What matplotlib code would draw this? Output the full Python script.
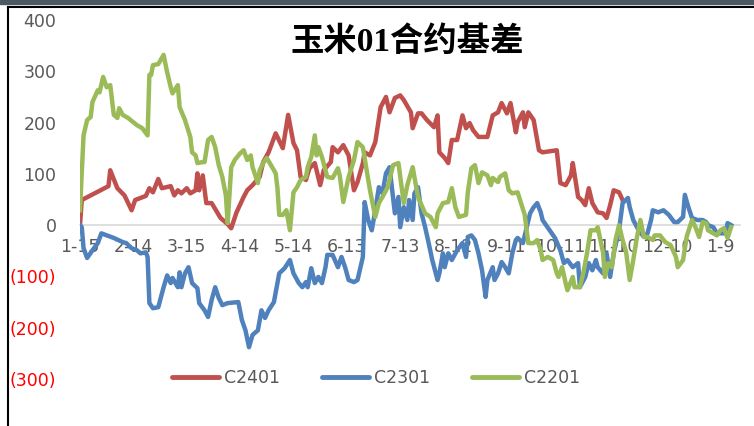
import matplotlib
matplotlib.use('Agg')
import matplotlib.pyplot as plt
from matplotlib.lines import Line2D

# --- data: day offset from 1-15, basis value ---
c2401_day = [0, 1, 16, 17, 21, 25, 29, 31, 37, 39, 41, 44, 46, 51, 53, 55, 57, 60, 62, 65,
             66, 67, 69, 71, 74, 79, 83, 85, 88, 92, 94, 97, 101, 103, 106, 110, 114, 117, 120, 122,
             124, 127, 129, 132, 135, 137, 141, 142, 145, 148, 151, 154, 156, 159, 160, 163, 166, 169, 172, 174,
             177, 180, 182, 186, 187, 190, 192, 195, 199, 201, 202, 205, 207, 209, 212, 215, 217, 219, 221, 224,
             229, 232, 235, 237, 240, 242, 245, 246, 249, 250, 252, 255, 258, 260, 268, 270, 273, 276, 277, 280,
             282, 284, 286, 288, 291, 294, 296, 298, 300, 303, 305]
c2401_val = [0, 49, 76, 107, 72, 58, 29, 49, 57, 72, 64, 90, 72, 76, 58, 68, 62, 72, 62, 68,
             101, 68, 97, 43, 43, 14, 2, -6, 25, 55, 68, 78, 94, 123, 142, 179, 150, 215, 160, 146,
             94, 88, 111, 121, 78, 107, 123, 152, 142, 156, 136, 68, 84, 121, 142, 136, 162, 230, 250, 220,
             248, 253, 244, 220, 189, 218, 218, 205, 191, 214, 142, 131, 121, 166, 166, 214, 189, 199, 185, 172,
             172, 214, 220, 238, 218, 238, 181, 201, 220, 191, 220, 205, 146, 142, 146, 82, 78, 97, 121, 55,
             49, 39, 72, 43, 25, 23, 14, 39, 68, 64, 49]

c2301_day = [0, 1, 2, 4, 7, 10, 12, 19, 24, 26, 29, 32, 34, 37, 38, 39, 41, 44, 47, 49,
             51, 52, 55, 56, 57, 59, 61, 63, 66, 67, 70, 72, 74, 76, 78, 80, 83, 89, 91, 93,
             95, 97, 100, 102, 104, 106, 109, 111, 112, 115, 118, 120, 123, 125, 127, 128, 130, 132, 134, 136,
             138, 139, 142, 145, 147, 149, 151, 154, 156, 159, 160, 162, 164, 166, 168, 170, 172, 174, 177, 179,
             180, 182, 184, 185, 187, 188, 190, 192, 194, 196, 198, 201, 202, 204, 205, 207, 209, 212, 215, 217,
             218, 220, 222, 224, 226, 228, 229, 232, 233, 235, 237, 239, 241, 243, 245, 246, 249, 250, 253, 255,
             257, 259, 260, 264, 267, 270, 272, 274, 277, 280, 281, 284, 286, 288, 290, 291, 294, 296, 298, 300,
             303, 305, 308, 309, 311, 314, 317, 319, 321, 322, 325, 328, 331, 334, 336, 339, 340, 342, 344, 347,
             350, 352, 353, 356, 358, 363, 364, 366]
c2301_val = [0, -4, -45, -64, -49, -35, -16, -25, -33, -35, -45, -49, -55, -53, -62, -152, -162, -160, -121, -98,
             -113, -103, -121, -92, -121, -94, -82, -113, -123, -152, -166, -179, -146, -121, -142, -156, -152, -150, -185, -205,
             -238, -214, -205, -166, -181, -166, -150, -113, -94, -84, -68, -94, -113, -121, -111, -121, -84, -113, -101, -113,
             -82, -58, -58, -82, -62, -82, -107, -111, -107, -62, 45, 10, -10, 29, 74, 62, 101, 113, 23, 55,
             -4, 35, 10, 49, 10, 62, 74, 23, -4, -35, -68, -107, -94, -55, -82, -55, -68, -49, -35, -62,
             -23, -20, -29, -55, -88, -140, -107, -82, -107, -94, -72, -82, -94, -55, -29, -25, -35, -20, 23, 35,
             43, 25, 10, -10, -25, -49, -74, -68, -82, -74, -121, -101, -74, -88, -68, -82, -94, -55, -101, -55,
             -10, 43, 53, 35, 10, -10, -23, -16, 10, 29, 25, 29, 20, 6, 6, 16, 59, 35, 14, 10,
             10, 6, 0, -4, -16, -16, 4, 0]

c2201_day = [0, 2, 4, 6, 7, 10, 11, 13, 15, 17, 19, 21, 22, 24, 27, 32, 35, 38, 39, 40,
             41, 44, 47, 49, 51, 52, 55, 56, 59, 62, 63, 65, 66, 69, 70, 72, 74, 76, 78, 80,
             82, 83, 85, 87, 90, 92, 94, 96, 97, 100, 101, 103, 105, 108, 110, 111, 112, 114, 116, 118,
             120, 122, 124, 127, 128, 130, 132, 133, 134, 136, 139, 142, 145, 146, 148, 151, 154, 156, 159, 160,
             163, 166, 168, 170, 173, 176, 179, 182, 184, 187, 190, 194, 197, 200, 201, 204, 207, 209, 211, 213,
             217, 218, 220, 222, 224, 226, 229, 231, 232, 235, 236, 239, 241, 243, 246, 247, 250, 252, 255, 257,
             259, 260, 263, 266, 268, 269, 271, 273, 274, 277, 278, 281, 283, 285, 287, 290, 291, 294, 295, 297,
             299, 301, 303, 305, 307, 309, 311, 313, 315, 317, 319, 322, 323, 326, 329, 332, 335, 336, 339, 341,
             344, 346, 348, 350, 352, 353, 356, 358, 360, 362, 364, 366]
c2201_val = [29, 175, 205, 211, 240, 263, 259, 289, 269, 273, 215, 209, 228, 215, 209, 195, 189, 175, 293, 293,
             312, 314, 332, 298, 269, 257, 273, 230, 205, 172, 142, 136, 121, 123, 123, 166, 172, 152, 117, 94,
             58, 4, 113, 127, 140, 146, 127, 136, 113, 82, 107, 121, 131, 113, 101, 72, 20, 20, 29, -10,
             64, 74, 88, 94, 113, 133, 175, 136, 152, 133, 94, 92, 111, 97, 45, 94, 127, 162, 152, 131,
             68, 16, 43, 55, 74, 117, 121, 43, 78, 113, 55, 23, 16, -4, 23, 43, 45, 72, 35, 16,
             20, 64, 111, 117, 82, 103, 97, 78, 92, 84, 94, 101, 68, 62, 64, 53, 20, -35, -35, -29,
             -49, -68, -62, -68, -94, -101, -82, -113, -127, -101, -121, -121, -92, -55, -10, -10, -4, -53, -101, -74,
             -82, -29, 0, -29, -53, -107, -68, -25, 10, -23, -23, -29, -20, -20, -33, -39, -62, -82, -68, -23,
             10, -4, -23, 6, 4, -10, -16, -20, -10, -6, -25, -4]

tick_days = [0, 30, 60, 90, 120, 150, 180, 210, 240, 270, 300, 330, 360]
tick_labels = ['1-15', '2-14', '3-15', '4-14', '5-14', '6-13', '7-13', '8-12',
               '9-11', '10-11', '11-10', '12-10', '1-9']
y_ticks = [-300, -200, -100, 0, 100, 200, 300, 400]

RED = '#C0504D'
BLUE = '#4F81BD'
GREEN = '#9BBB59'
GRAY = '#595959'

fig = plt.figure(figsize=(7.54, 4.26), dpi=100)
ax = fig.add_axes([80 / 754, 47 / 426, 660 / 754, 359 / 426])

ax.plot(c2401_day, c2401_val, color=RED, lw=3.2, solid_joinstyle='round', label='C2401', zorder=3)
ax.plot(c2301_day, c2301_val, color=BLUE, lw=3.2, solid_joinstyle='round', label='C2301', zorder=4)
ax.plot(c2201_day, c2201_val, color=GREEN, lw=3.2, solid_joinstyle='round', label='C2201', zorder=5)

ax.set_xlim(0, 371)
ax.set_ylim(-300, 400)

for s in ['top', 'right', 'left']:
    ax.spines[s].set_visible(False)
ax.spines['bottom'].set_position(('data', 0))
ax.spines['bottom'].set_color('#d9d9d9')
ax.spines['bottom'].set_linewidth(1.2)
ax.spines['bottom'].set_zorder(1)

ax.set_xticks(tick_days)
ax.set_xticklabels(tick_labels)
ax.tick_params(axis='x', length=0, pad=9, labelsize=12.5, labelcolor=GRAY)

ax.set_yticks(y_ticks)
ax.set_yticklabels([f'({-v})' if v < 0 else str(v) for v in y_ticks])
ax.tick_params(axis='y', length=0, pad=17, labelsize=12.5)
for v, lab in zip(y_ticks, ax.get_yticklabels()):
    lab.set_color('red' if v < 0 else GRAY)

# title
fig.text(407 / 754, 1 - 42 / 426, '玉米01合约基差', ha='center', va='center',
         fontsize=24, fontweight='bold', color='black',
         family=['Liberation Serif', 'Noto Sans CJK SC'])

# legend
handles = [Line2D([], [], color=c, lw=3.5, solid_capstyle='round') for c in (RED, BLUE, GREEN)]
leg = fig.legend(handles, ['C2401', 'C2301', 'C2201'], loc='center', ncol=3,
                 bbox_to_anchor=(376 / 754, 48 / 426), frameon=False, fontsize=12.5,
                 handlelength=2.7, handletextpad=0.3, columnspacing=2.4)
for t in leg.get_texts():
    t.set_color(GRAY)

# frame decorations
fig.patches.append(plt.Rectangle((0, 1 - 4 / 426), 1, 4 / 426, transform=fig.transFigure,
                                 color='#4d5866', zorder=0))
fig.add_artist(Line2D([8 / 754, 1], [1 - 7 / 426, 1 - 7 / 426], color='black', lw=1.5,
                      transform=fig.transFigure))
fig.add_artist(Line2D([8 / 754, 8 / 754], [0, 1 - 7 / 426], color='black', lw=1.5,
                      transform=fig.transFigure))

fig.savefig('out.png', dpi=100)
